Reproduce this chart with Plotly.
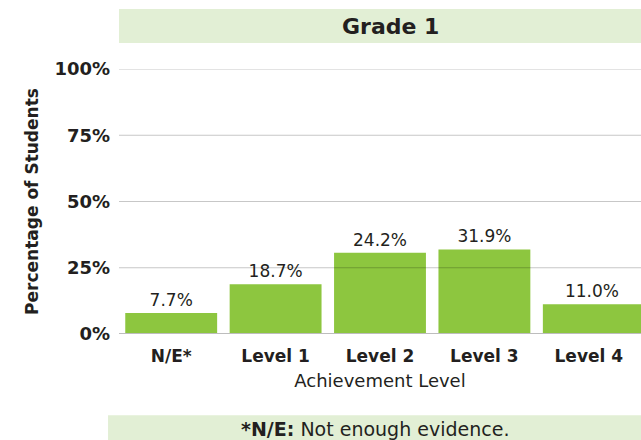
import plotly.graph_objects as go

categories = ["N/E*", "Level 1", "Level 2", "Level 3", "Level 4"]
bar_heights = [7.9, 18.8, 30.7, 31.9, 11.2]
bar_labels = ["7.7%", "18.7%", "24.2%", "31.9%", "11.0%"]
y_ticks = [0, 25, 50, 75, 100]
y_tick_labels = ["0%", "25%", "50%", "75%", "100%"]
title_text = "Grade 1"
footer_bold = "*N/E:"
footer_rest = " Not enough evidence."

FONT = "DejaVu Sans"
DARK = "#231f20"
GREEN = "#8dc63f"
BAND = "#e2efd5"

fig = go.Figure()
fig.add_trace(go.Bar(
    x=list(range(len(categories))),
    y=bar_heights,
    text=bar_labels,
    textposition="outside",
    cliponaxis=False,
    textfont=dict(family=FONT, size=17, color=DARK),
    marker=dict(color=GREEN, line=dict(width=0)),
    width=[0.88, 0.88, 0.88, 0.88, 0.94],
    offset=[-0.44] * 5,
    hoverinfo="skip",
))

shapes = []
shapes.append(dict(type="rect", xref="paper", yref="paper", x0=0, x1=1,
                   y0=1.098, y1=1.226, fillcolor=BAND, line=dict(width=0), layer="below"))
shapes.append(dict(type="rect", xref="paper", yref="paper", x0=-0.021, x1=1,
                   y0=-0.41, y1=-0.307, fillcolor=BAND, line=dict(width=0), layer="below"))
for t in y_ticks:
    if t == 0:
        shapes.append(dict(type="line", xref="paper", yref="y", x0=0, x1=1, y0=t, y1=t,
                           line=dict(color="#bdbdbd", width=2), layer="above"))
    else:
        shapes.append(dict(type="line", xref="paper", yref="y", x0=0, x1=1, y0=t, y1=t,
                           line=dict(color="rgba(0,0,0,0.22)", width=1), layer="above"))

annotations = [
    dict(text="<b>" + title_text + "</b>", xref="paper", yref="paper", x=0.52, y=1.162,
         showarrow=False, font=dict(family=FONT, size=22, color=DARK), xanchor="center", yanchor="middle"),
    dict(text="<b>" + footer_bold + "</b>" + footer_rest, xref="paper", yref="paper", x=0.49, y=-0.36,
         showarrow=False, font=dict(family=FONT, size=19, color=DARK), xanchor="center", yanchor="middle"),
]

fig.update_layout(
    width=641, height=440,
    margin=dict(l=119, r=0, t=69, b=106),
    paper_bgcolor="white", plot_bgcolor="white",
    showlegend=False,
    shapes=shapes,
    annotations=annotations,
    font=dict(family=FONT, color=DARK),
    xaxis=dict(
        range=[-0.5, 4.5],
        tickmode="array", tickvals=list(range(len(categories))),
        ticktext=["<b>" + c + "</b>" for c in categories],
        tickfont=dict(family=FONT, size=17, color=DARK),
        showgrid=False, zeroline=False, showline=False, ticks="",
        ticklabelstandoff=10,
        title=dict(text="Achievement Level", font=dict(family=FONT, size=18, color=DARK), standoff=9),
    ),
    yaxis=dict(
        range=[0, 100],
        tickmode="array", tickvals=y_ticks,
        ticktext=["<b>" + s + "</b>" for s in y_tick_labels],
        tickfont=dict(family=FONT, size=18, color=DARK),
        showgrid=False, zeroline=False, showline=False, ticks="",
        ticklabelstandoff=8,
        title=dict(text="<b>Percentage of Students</b>", font=dict(family=FONT, size=17, color=DARK), standoff=11),
    ),
)

fig.write_html("out.html", config={"displayModeBar": False},
               post_script="document.body.style.margin='0';document.body.style.padding='0';")
